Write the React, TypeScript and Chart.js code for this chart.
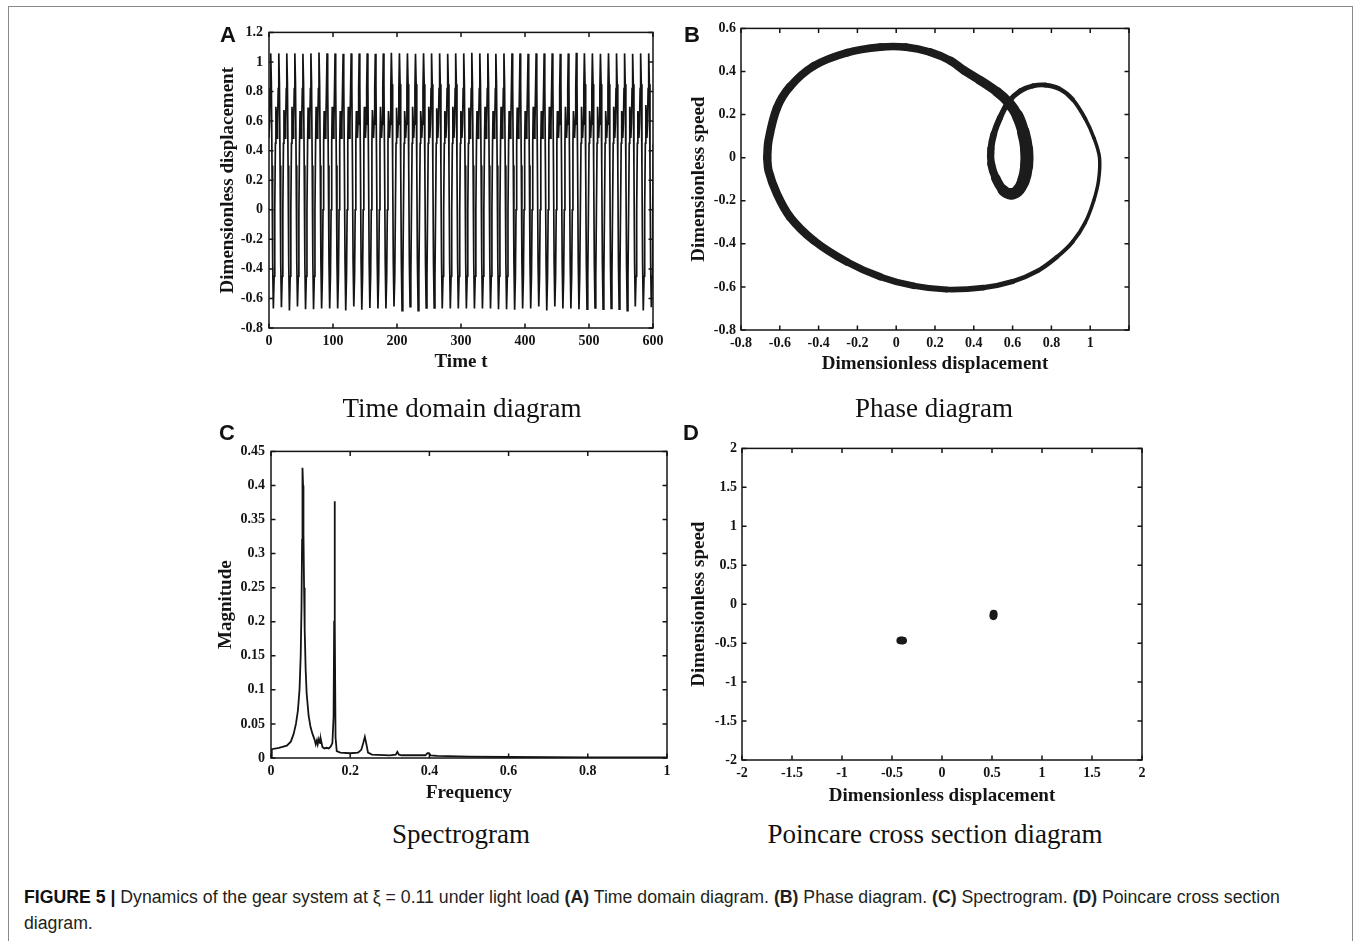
import React, { useEffect, useRef } from 'react';
import { Chart, registerables } from 'chart.js';

Chart.register(...registerables);

// ---------------- Panel A : time domain ----------------
const timeXTicks = [0, 100, 200, 300, 400, 500, 600];
const timeXTickLabels = ['0', '100', '200', '300', '400', '500', '600'];
const timeYTicks = [-0.8, -0.6, -0.4, -0.2, 0, 0.2, 0.4, 0.6, 0.8, 1, 1.2];
const timeYTickLabels = ['-0.8', '-0.6', '-0.4', '-0.2', '0', '0.2', '0.4', '0.6', '0.8', '1', '1.2'];

// time of each displacement peak (one per cycle)
const timePeakTimes = [
  -9.9, 2.7, 15.3, 27.8, 40.4, 53.0, 65.5, 78.1, 90.7, 103.2,
  115.8, 128.4, 140.9, 153.5, 166.1, 178.6, 191.2, 203.8, 216.3, 228.9,
  241.5, 254.0, 266.6, 279.2, 291.7, 304.3, 316.9, 329.4, 342.0, 354.5,
  367.1, 379.7, 392.2, 404.8, 417.4, 429.9, 442.5, 455.1, 467.6, 480.2,
  492.8, 505.3, 517.9, 530.5, 543.0, 555.6, 568.2, 580.7, 593.3, 605.9,
];
const timePeakValues = [
  1.055, 1.058, 1.058, 1.058, 1.058, 1.055, 1.058, 1.064, 1.058, 1.058,
  1.055, 1.058, 1.058, 1.058, 1.055, 1.058, 1.062, 1.058, 1.058, 1.055,
  1.058, 1.058, 1.058, 1.055, 1.058, 1.058, 1.062, 1.058, 1.058, 1.055,
  1.058, 1.058, 1.058, 1.055, 1.058, 1.058, 1.058, 1.055, 1.058, 1.062,
  1.058, 1.058, 1.055, 1.058, 1.058, 1.058, 1.055, 1.058, 1.058, 1.058,
];
const timeTroughValues = [
  -0.668,
  -0.668, -0.659, -0.682, -0.655, -0.673, -0.673, -0.668, -0.668, -0.668, -0.682,
  -0.655, -0.677, -0.664, -0.668, -0.668, -0.655, -0.682, -0.655, -0.682, -0.664,
  -0.664, -0.668, -0.668, -0.668, -0.668, -0.668, -0.668, -0.668, -0.673, -0.673,
  -0.677, -0.668, -0.668, -0.655, -0.682, -0.655, -0.668, -0.668, -0.673, -0.673,
  -0.664, -0.673, -0.668, -0.673, -0.682, -0.655, -0.682, -0.659,
  -0.668,
];
const timePlateauValues = [
  0.69,
  0.697, 0.675, 0.697, 0.668, 0.691, 0.697, 0.668, 0.697, 0.668, 0.697,
  0.668, 0.697, 0.675, 0.697, 0.668, 0.691, 0.668, 0.697, 0.668, 0.697,
  0.686, 0.668, 0.697, 0.668, 0.691, 0.668, 0.697, 0.668, 0.697, 0.668,
  0.691, 0.668, 0.697, 0.668, 0.697, 0.668, 0.697, 0.668, 0.697, 0.668,
  0.697, 0.668, 0.697, 0.668, 0.697, 0.668, 0.708,
  0.69, 0.69,
];
// shape of one cycle after its peak (time offset, value or which per-cycle value)
const cycleOffsets = [0, 1.0, 2.0, 3.0, 4.1, 5.3, 6.3, 7.3, 8.1, 9.0, 9.8, 10.7, 11.7];
const cycleShape: (number | string)[] = ['peak', 0.85, 0.3, -0.35, 'trough', -0.45, 0.0, 0.45, 'plateau', 0.6, 0.485, 0.58, 0.82];

// ---------------- Panel B : phase diagram ----------------
const phaseXTicks = [-0.8, -0.6, -0.4, -0.2, 0, 0.2, 0.4, 0.6, 0.8, 1, 1.2];
const phaseXTickLabels = ['-0.8', '-0.6', '-0.4', '-0.2', '0', '0.2', '0.4', '0.6', '0.8', '1', ''];
const phaseYTicks = [-0.8, -0.6, -0.4, -0.2, 0, 0.2, 0.4, 0.6];
const phaseYTickLabels = ['-0.8', '-0.6', '-0.4', '-0.2', '0', '0.2', '0.4', '0.6'];

const phaseDisp = [
  -0.665, -0.658, -0.615, -0.547, -0.426, -0.254, -0.082, 0.05, 0.175, 0.28,
  0.35, 0.43, 0.52, 0.58, 0.625, 0.655, 0.672, 0.672, 0.655, 0.625,
  0.588, 0.55, 0.513, 0.49, 0.488, 0.503, 0.535, 0.58, 0.64, 0.705,
  0.768, 0.84, 0.91, 0.975, 1.02, 1.048, 1.043, 1.018, 0.975, 0.91,
  0.83, 0.73, 0.6, 0.45, 0.26, 0.09, -0.082, -0.254, -0.426, -0.547,
  -0.615, -0.658, -0.665,
];
const phaseSpeed = [
  0.0, 0.08, 0.23, 0.33, 0.425, 0.487, 0.513, 0.513, 0.49, 0.45,
  0.405, 0.36, 0.305, 0.255, 0.195, 0.12, 0.04, -0.04, -0.11, -0.155,
  -0.168, -0.15, -0.095, -0.03, 0.04, 0.11, 0.185, 0.26, 0.31, 0.333,
  0.337, 0.32, 0.27, 0.18, 0.09, 0.0, -0.106, -0.2, -0.3, -0.39,
  -0.46, -0.525, -0.575, -0.603, -0.612, -0.595, -0.553, -0.484, -0.384, -0.276,
  -0.168, -0.06, 0.0,
];
// spread of the trajectory band between cycles (displacement units)
const phaseSpread = [
  0.041, 0.041, 0.041, 0.04, 0.039, 0.038, 0.037, 0.037, 0.038, 0.04,
  0.042, 0.044, 0.047, 0.05, 0.055, 0.06, 0.064, 0.064, 0.06, 0.057,
  0.056, 0.05, 0.042, 0.037, 0.035, 0.032, 0.029, 0.027, 0.025, 0.024,
  0.024, 0.022, 0.02, 0.018, 0.017, 0.017, 0.017, 0.017, 0.018, 0.019,
  0.02, 0.022, 0.025, 0.027, 0.029, 0.031, 0.034, 0.037, 0.039, 0.041,
  0.041, 0.041, 0.041,
];

// ---------------- Panel C : spectrogram ----------------
const specXTicks = [0, 0.2, 0.4, 0.6, 0.8, 1];
const specXTickLabels = ['0', '0.2', '0.4', '0.6', '0.8', '1'];
const specYTicks = [0, 0.05, 0.1, 0.15, 0.2, 0.25, 0.3, 0.35, 0.4, 0.45];
const specYTickLabels = ['0', '0.05', '0.1', '0.15', '0.2', '0.25', '0.3', '0.35', '0.4', '0.45'];
const specFreq = [
  0, 0.002, 0.02, 0.04, 0.05, 0.057, 0.063, 0.068, 0.072, 0.075,
  0.077, 0.0785, 0.0795, 0.081, 0.082, 0.0835, 0.085, 0.0875, 0.09, 0.095,
  0.1, 0.105, 0.11, 0.113, 0.116, 0.118, 0.121, 0.124, 0.126, 0.13,
  0.135, 0.14, 0.146, 0.151, 0.155, 0.158, 0.1595, 0.1605, 0.1615, 0.163,
  0.166, 0.175, 0.2, 0.22, 0.228, 0.233, 0.237, 0.241, 0.245, 0.255,
  0.3, 0.315, 0.319, 0.323, 0.33, 0.39, 0.395, 0.399, 0.403, 0.42,
  0.5, 0.6, 0.8, 1.0,
];
const specMag = [
  0, 0.013, 0.015, 0.018, 0.024, 0.035, 0.05, 0.07, 0.1, 0.15,
  0.22, 0.32, 0.426, 0.4, 0.33, 0.25, 0.19, 0.13, 0.095, 0.062,
  0.045, 0.035, 0.027, 0.02, 0.026, 0.02, 0.028, 0.022, 0.027, 0.016,
  0.014, 0.015, 0.014, 0.017, 0.022, 0.06, 0.2, 0.377, 0.2, 0.03,
  0.01, 0.008, 0.007, 0.008, 0.012, 0.022, 0.031, 0.02, 0.008, 0.005,
  0.004, 0.005, 0.009, 0.005, 0.004, 0.004, 0.007, 0.007, 0.004, 0.003,
  0.002, 0.0015, 0.001, 0.001,
];

// ---------------- Panel D : Poincare section ----------------
const poinTicks = [-2, -1.5, -1, -0.5, 0, 0.5, 1, 1.5, 2];
const poinTickLabels = ['-2', '-1.5', '-1', '-0.5', '0', '0.5', '1', '1.5', '2'];
const poincareDisp = [-0.418, -0.408, -0.398, -0.388, 0.517, 0.514, 0.516, 0.514];
const poincareSpeed = [-0.466, -0.463, -0.468, -0.466, -0.119, -0.131, -0.144, -0.156];

// ---------------- shared styling ----------------
const SERIF = "'Liberation Serif','Times New Roman',Times,serif";
const SANS = "'Liberation Sans',Arial,Helvetica,sans-serif";
const TITLE_SIZE = 19;
const PAD_TOP = 12;
const PAD_RIGHT = 18;
const INK = '#141414';

type Geom = { L: number; T: number; R: number; B: number; yTitleCX: number; xTitleCY: number; yPad: number; xPad: number };

function frameFor(g: Geom) {
  const left = Math.round(g.yTitleCX - TITLE_SIZE / 2);
  const top = g.T - PAD_TOP;
  const yW = g.L - left;
  const xH = Math.round(g.xTitleCY + TITLE_SIZE / 2 - g.B);
  const width = g.R + PAD_RIGHT - left;
  const height = g.B + xH - top;
  return { left, top, width, height, yW, xH };
}

function axis(min: number, max: number, ticks: number[], labels: string[], title: string, fitKey: 'width' | 'height', size: number, pad: number) {
  return {
    type: 'linear',
    min,
    max,
    afterBuildTicks: (s: any) => {
      s.ticks = ticks.map((v) => ({ value: v }));
    },
    afterFit: (s: any) => {
      s[fitKey] = size;
    },
    grid: { display: false, drawTicks: false },
    border: { display: false },
    ticks: {
      autoSkip: false,
      maxRotation: 0,
      minRotation: 0,
      padding: pad,
      color: INK,
      font: { family: SERIF, size: 14, weight: 'bold' },
      callback: (_v: any, i: number) => labels[i],
    },
    title: {
      display: true,
      text: title,
      color: INK,
      padding: 0,
      font: { family: SERIF, size: TITLE_SIZE, weight: 'bold', lineHeight: 1 },
    },
  };
}

const boxPlugin = {
  id: 'matlabBox',
  afterDraw(chart: any) {
    const { ctx, chartArea: a, scales } = chart;
    const xs = scales.x;
    const ys = scales.y;
    const tl = 4.5;
    ctx.save();
    ctx.strokeStyle = INK;
    ctx.lineWidth = 1.5;
    ctx.beginPath();
    xs.ticks.forEach((t: any) => {
      const px = xs.getPixelForValue(t.value);
      ctx.moveTo(px, a.bottom);
      ctx.lineTo(px, a.bottom - tl);
      ctx.moveTo(px, a.top);
      ctx.lineTo(px, a.top + tl);
    });
    ys.ticks.forEach((t: any) => {
      const py = ys.getPixelForValue(t.value);
      ctx.moveTo(a.left, py);
      ctx.lineTo(a.left + tl, py);
      ctx.moveTo(a.right, py);
      ctx.lineTo(a.right - tl, py);
    });
    ctx.stroke();
    ctx.strokeRect(a.left, a.top, a.right - a.left, a.bottom - a.top);
    ctx.restore();
  },
};

function baseOptions(xAxis: any, yAxis: any) {
  return {
    responsive: false,
    animation: false,
    devicePixelRatio: 1,
    events: [],
    layout: { padding: { top: PAD_TOP, right: PAD_RIGHT, left: 0, bottom: 0 } },
    plugins: { legend: { display: false }, tooltip: { enabled: false } },
    scales: { x: xAxis, y: yAxis },
  };
}

// geometry of the four panels (plot-area edges)
const geomA: Geom = { L: 269, T: 30, R: 653, B: 328, yTitleCX: 228, xTitleCY: 362, yPad: 6, xPad: 5 };
const geomB: Geom = { L: 741, T: 27, R: 1129, B: 330, yTitleCX: 699, xTitleCY: 364, yPad: 5, xPad: 5 };
const geomC: Geom = { L: 271, T: 449, R: 667, B: 758, yTitleCX: 226, xTitleCY: 793, yPad: 6, xPad: 5 };
const geomD: Geom = { L: 742, T: 447, R: 1142, B: 760, yTitleCX: 699, xTitleCY: 796, yPad: 5, xPad: 5 };

function configA() {
  const f = frameFor(geomA);
  const pts: { x: number; y: number }[] = [];
  timePeakTimes.forEach((tp, k) => {
    cycleOffsets.forEach((off, j) => {
      const tag = cycleShape[j];
      const v =
        tag === 'peak' ? timePeakValues[k] : tag === 'trough' ? timeTroughValues[k] : tag === 'plateau' ? timePlateauValues[k] : (tag as number);
      pts.push({ x: tp + off, y: v });
    });
  });
  return {
    type: 'scatter',
    data: {
      datasets: [{ data: pts, showLine: true, pointRadius: 0, borderColor: INK, borderWidth: 1.7, tension: 0, clip: 0 }],
    },
    options: baseOptions(
      axis(0, 600, timeXTicks, timeXTickLabels, 'Time t', 'height', f.xH, geomA.xPad),
      axis(-0.8, 1.2, timeYTicks, timeYTickLabels, 'Dimensionless displacement', 'width', f.yW, geomA.yPad)
    ),
    plugins: [boxPlugin],
  };
}

function configB() {
  const f = frameFor(geomB);
  const pts = phaseDisp.map((x, i) => ({ x, y: phaseSpeed[i] }));
  return {
    type: 'scatter',
    data: {
      datasets: [
        {
          data: pts,
          showLine: true,
          pointRadius: 0,
          borderColor: '#1c1c1c',
          borderWidth: 4,
          borderCapStyle: 'round',
          borderJoinStyle: 'round',
          tension: 0.35,
          segment: {
            borderWidth: (ctx: any) => {
              const xs = ctx.chart.scales.x;
              const ys = ctx.chart.scales.y;
              const ppu =
                (Math.abs(xs.getPixelForValue(1) - xs.getPixelForValue(0)) + Math.abs(ys.getPixelForValue(1) - ys.getPixelForValue(0))) / 2;
              const s = (phaseSpread[ctx.p0DataIndex] + phaseSpread[ctx.p1DataIndex]) / 2;
              return Math.max(1.5, s * ppu);
            },
          },
        },
      ],
    },
    options: baseOptions(
      axis(-0.8, 1.2, phaseXTicks, phaseXTickLabels, 'Dimensionless displacement', 'height', f.xH, geomB.xPad),
      axis(-0.8, 0.6, phaseYTicks, phaseYTickLabels, 'Dimensionless speed', 'width', f.yW, geomB.yPad)
    ),
    plugins: [boxPlugin],
  };
}

function configC() {
  const f = frameFor(geomC);
  const pts = specFreq.map((x, i) => ({ x, y: specMag[i] }));
  return {
    type: 'scatter',
    data: {
      datasets: [{ data: pts, showLine: true, pointRadius: 0, borderColor: INK, borderWidth: 1.8, tension: 0, clip: 0 }],
    },
    options: baseOptions(
      axis(0, 1, specXTicks, specXTickLabels, 'Frequency', 'height', f.xH, geomC.xPad),
      axis(0, 0.45, specYTicks, specYTickLabels, 'Magnitude', 'width', f.yW, geomC.yPad)
    ),
    plugins: [boxPlugin],
  };
}

function configD() {
  const f = frameFor(geomD);
  const pts = poincareDisp.map((x, i) => ({ x, y: poincareSpeed[i] }));
  return {
    type: 'scatter',
    data: {
      datasets: [{ data: pts, pointRadius: 3.8, backgroundColor: '#1a1a1a', borderWidth: 0 }],
    },
    options: baseOptions(
      axis(-2, 2, poinTicks, poinTickLabels, 'Dimensionless displacement', 'height', f.xH, geomD.xPad),
      axis(-2, 2, poinTicks, poinTickLabels, 'Dimensionless speed', 'width', f.yW, geomD.yPad)
    ),
    plugins: [boxPlugin],
  };
}

function Panel({ geom, make }: { geom: Geom; make: () => any }) {
  const ref = useRef<HTMLCanvasElement | null>(null);
  const f = frameFor(geom);
  useEffect(() => {
    if (!ref.current) return;
    const chart = new Chart(ref.current, make());
    return () => chart.destroy();
  }, []);
  return (
    <canvas
      ref={ref}
      width={f.width}
      height={f.height}
      style={{ position: 'absolute', left: f.left, top: f.top, width: f.width, height: f.height }}
    />
  );
}

const letterStyle = (left: number, top: number): React.CSSProperties => ({
  position: 'absolute',
  left,
  top,
  fontFamily: SANS,
  fontWeight: 'bold',
  fontSize: 22,
  lineHeight: 1,
  color: '#111',
});

const subStyle = (cx: number, top: number): React.CSSProperties => ({
  position: 'absolute',
  left: cx - 300,
  top,
  width: 600,
  textAlign: 'center',
  fontFamily: SERIF,
  fontSize: 27,
  lineHeight: 1,
  color: '#111',
});

export default function App() {
  return (
    <div style={{ position: 'absolute', left: 0, top: 0, width: 1356, height: 941, overflow: 'hidden', background: '#fff' }}>
      <div
        style={{
          position: 'absolute',
          left: 8,
          top: 6,
          width: 1345,
          height: 1000,
          border: '1px solid #8a8a8a',
          boxSizing: 'border-box',
        }}
      />
      <Panel geom={geomA} make={configA} />
      <Panel geom={geomB} make={configB} />
      <Panel geom={geomC} make={configC} />
      <Panel geom={geomD} make={configD} />

      <div style={letterStyle(220, 24)}>A</div>
      <div style={letterStyle(684, 24)}>B</div>
      <div style={letterStyle(219, 422)}>C</div>
      <div style={letterStyle(683, 422)}>D</div>

      <div style={subStyle(462, 395)}>Time domain diagram</div>
      <div style={subStyle(934, 395)}>Phase diagram</div>
      <div style={subStyle(461, 821)}>Spectrogram</div>
      <div style={subStyle(935, 821)}>Poincare cross section diagram</div>

      <div
        style={{
          position: 'absolute',
          left: 24,
          top: 884,
          fontFamily: SANS,
          fontSize: 18,
          lineHeight: '26px',
          color: '#231f20',
          whiteSpace: 'nowrap',
          transform: 'scaleX(0.982)',
          transformOrigin: 'left top',
        }}
      >
        <b style={{ color: '#111' }}>FIGURE 5 |</b> Dynamics of the gear system at ξ = 0.11 under light load <b>(A)</b> Time domain diagram.{' '}
        <b>(B)</b> Phase diagram. <b>(C)</b> Spectrogram. <b>(D)</b> Poincare cross section
        <br />
        diagram.
      </div>
    </div>
  );
}
